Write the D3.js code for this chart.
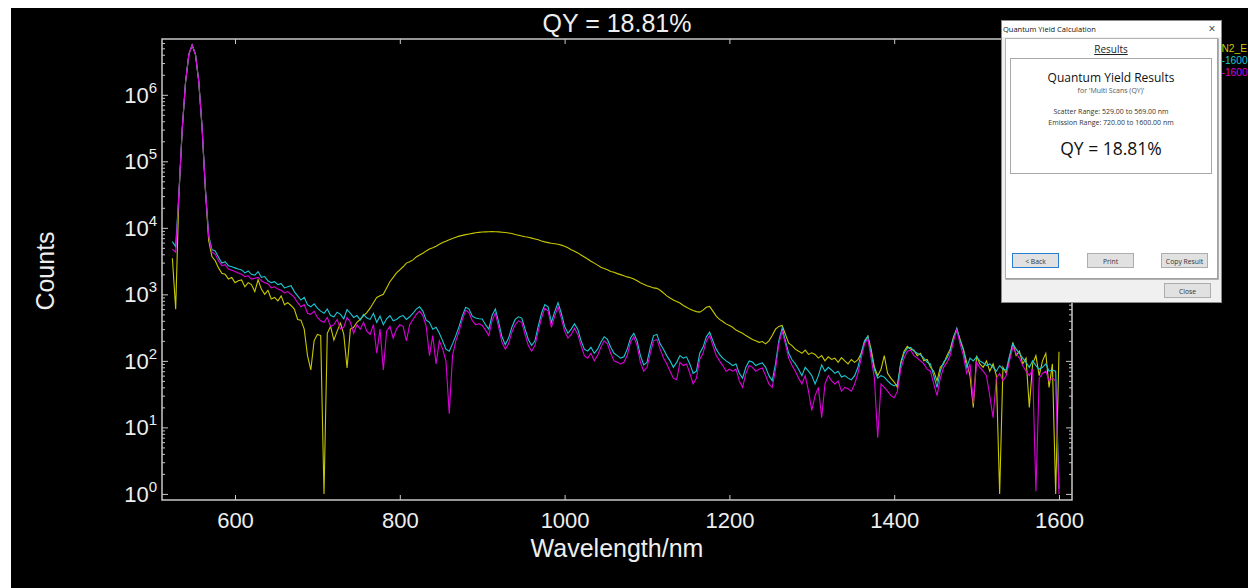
<!DOCTYPE html>
<html>
<head>
<meta charset="utf-8">
<script src="https://cdn.jsdelivr.net/npm/d3@7"></script>
<style>
body { margin: 0; background: #fff; }
svg { display: block; }
</style>
</head>
<body>
<svg width="1248" height="588"></svg>
<script>
// spectra sampled every 4 nm, 524 .. 1600 nm
var wavelengths = d3.range(524, 1601, 4);

var n2Counts = [
  3500, 600, 33000, 310000, 1550000, 4050000, 5580000, 4050000, 1590000, 325000, 38000, 6500, 3700, 3200, 2500, 2080, 2000, 1700, 1800, 1500,
  1600, 1650, 1300, 1500, 1400, 1100, 1650, 1200, 1000, 1150, 850, 900, 800, 950, 700, 750, 680, 600, 420, 410, 300, 120, 73, 200, 250,
  240, 1, 260, 330, 205, 280, 370, 250, 78, 300, 320, 380, 420, 480, 530, 620, 750, 900, 950, 1000, 1250, 1550, 1800, 2100, 2340,
  2600, 2950, 3100, 3300, 3650, 3900, 4150, 4500, 4800, 5000, 5300, 5650, 6000, 6300, 6600, 6900, 7200, 7500, 7700, 7900, 8100, 8250, 8450, 8550, 8650,
  8700, 8750, 8800, 8750, 8700, 8600, 8500, 8350, 8200, 7950, 7750, 7550, 7350, 7200, 7000, 6800, 6600, 6350, 6150, 6000, 5850, 5750, 5650, 5500, 5300,
  5000, 4700, 4450, 4200, 3900, 3650, 3400, 3150, 2950, 2750, 2550, 2450, 2350, 2200, 2150, 2050, 1980, 1900, 1830, 1780, 1700, 1600, 1500, 1420, 1350,
  1300, 1250, 1230, 1150, 1050, 950, 880, 820, 780, 740, 680, 640, 600, 570, 550, 540, 580, 640, 660, 560, 470, 420, 390, 360, 340,
  320, 290, 275, 260, 240, 225, 210, 200, 190, 195, 180, 200, 240, 300, 330, 340, 250, 185, 170, 150, 140, 130, 145, 125, 132,
  125, 110, 120, 100, 115, 105, 110, 95, 112, 100, 90, 105, 95, 104, 130, 190, 235, 150, 80, 60, 75, 120, 65, 55, 48,
  40, 95, 140, 165, 150, 145, 120, 130, 100, 105, 80, 70, 50, 80, 90, 120, 150, 230, 300, 210, 150, 95, 60, 20, 120,
  90, 80, 100, 70, 90, 60, 1, 80, 65, 110, 190, 120, 140, 90, 110, 20, 90, 120, 60, 100, 130, 40, 90, 1, 137
];

var cyanCounts = [
  6200, 5200, 34000, 314000, 1560000, 4070000, 5600000, 4070000, 1600000, 330000, 40000, 7800, 4700, 4500, 3600, 2950, 3100, 2700, 2600, 2500,
  2400, 2330, 2100, 2250, 2000, 1950, 2200, 1800, 1850, 1600, 1500, 1550, 1400, 1450, 1250, 1300, 1350, 1100, 950, 820, 900, 700, 650, 720, 620,
  560, 520, 600, 480, 460, 540, 500, 430, 590, 520, 450, 480, 410, 500, 440, 420, 520, 380, 470, 350, 430, 480, 400, 420, 460,
  480, 420, 460, 520, 600, 650, 560, 410, 380, 300, 320, 260, 200, 150, 140, 180, 240, 330, 480, 640, 600, 470, 440, 430, 425,
  350, 300, 480, 600, 380, 230, 175, 220, 320, 420, 460, 440, 300, 210, 170, 200, 330, 520, 700, 650, 380, 550, 750, 520, 330,
  260, 300, 360, 300, 200, 150, 140, 160, 130, 150, 190, 230, 210, 160, 130, 120, 110, 115, 150, 220, 260, 200, 120, 87, 95,
  160, 240, 250, 180, 150, 120, 100, 80, 95, 120, 110, 115, 90, 65, 70, 130, 160, 230, 270, 200, 150, 125, 110, 100, 93,
  85, 90, 65, 55, 80, 100, 96, 85, 90, 93, 80, 60, 50, 90, 200, 310, 200, 130, 104, 90, 75, 60, 80, 70, 60,
  45, 60, 87, 70, 80, 73, 65, 70, 57, 60, 55, 52, 60, 80, 130, 200, 235, 130, 73, 55, 60, 57, 50, 45, 42,
  45, 90, 130, 155, 160, 140, 130, 123, 110, 95, 90, 60, 40, 70, 96, 110, 140, 220, 310, 200, 145, 80, 110, 100, 115,
  100, 93, 85, 90, 80, 70, 85, 75, 73, 120, 180, 150, 130, 110, 95, 80, 100, 85, 75, 80, 90, 70, 73, 70, 1.2
];

var magentaCounts = [
  4800, 4300, 34000, 314000, 1560000, 4070000, 5600000, 4070000, 1600000, 330000, 40000, 7500, 4300, 4000, 3200, 2700, 2800, 2400, 2300, 2200,
  2100, 2000, 1850, 1900, 1700, 1750, 1800, 1600, 1500, 1450, 1250, 1300, 1200, 1150, 1050, 1100, 1000, 900, 750, 650, 700, 520, 500, 560, 450,
  400, 380, 450, 330, 350, 420, 300, 320, 450, 380, 260, 350, 300, 380, 280, 250, 350, 130, 300, 73, 280, 330, 220, 300, 350,
  330, 200, 350, 420, 500, 560, 480, 330, 120, 240, 90, 200, 150, 100, 16, 120, 200, 280, 420, 580, 530, 400, 350, 360, 340,
  290, 240, 400, 520, 320, 190, 150, 180, 270, 350, 400, 380, 250, 170, 140, 170, 280, 440, 620, 560, 320, 470, 650, 440, 280,
  220, 250, 310, 250, 170, 120, 110, 130, 100, 120, 160, 200, 180, 130, 100, 95, 90, 95, 120, 190, 230, 170, 95, 70, 80,
  130, 200, 210, 150, 110, 90, 70, 55, 52, 95, 85, 90, 65, 45, 55, 105, 130, 200, 240, 170, 120, 100, 85, 70, 75,
  70, 75, 50, 40, 65, 85, 80, 70, 75, 78, 60, 45, 40, 75, 180, 280, 180, 110, 85, 70, 55, 45, 60, 35, 18,
  30, 40, 14, 45, 60, 50, 45, 50, 35, 40, 38, 35, 45, 65, 110, 180, 215, 110, 55, 7, 45, 40, 35, 30, 28,
  35, 75, 110, 140, 145, 120, 110, 100, 90, 75, 70, 45, 30, 55, 80, 95, 120, 200, 290, 180, 120, 65, 90, 23, 95,
  80, 70, 60, 30, 14, 55, 65, 50, 60, 100, 160, 130, 110, 85, 70, 60, 75, 1.1, 55, 65, 70, 50, 55, 50, 1
];

// only the start of each legend name is inside the picture
var seriesNames = ["N2_E", "-1600", "-1600"];
var seriesColors = ["#c8c800", "#1cc6d4", "#dc00dc"];
var xTicks = [600, 800, 1000, 1200, 1400, 1600];
var decadeExps = [0, 1, 2, 3, 4, 5, 6];

document.addEventListener('DOMContentLoaded', function() {
  var svg = d3.select("svg");
  svg.append("rect").attr("x", 11).attr("y", 8).attr("width", 1237).attr("height", 580).attr("fill", "#000");

  var plotLeft = 162, plotRight = 1072, plotTop = 39, plotBottom = 500;
  var x = d3.scaleLinear().domain([511.4, 1615.8]).range([plotLeft, plotRight]);
  var y = d3.scaleLog().domain([0.81, 6.9e6]).range([plotBottom, plotTop]);

  var majors = decadeExps.map(function(e) { return Math.pow(10, e); });
  var minors = [];
  majors.forEach(function(d) {
    for (var k = 2; k < 10; k++) if (d * k < 6.9e6) minors.push(d * k);
  });

  svg.append("defs").append("clipPath").attr("id", "plotclip")
    .append("rect").attr("x", plotLeft).attr("y", plotTop)
    .attr("width", plotRight - plotLeft).attr("height", plotBottom - plotTop);

  var line = d3.line()
    .x(function(d) { return x(d[0]); })
    .y(function(d) { return y(d[1]); });

  var g = svg.append("g").attr("clip-path", "url(#plotclip)");
  [n2Counts, cyanCounts, magentaCounts].forEach(function(vals, i) {
    g.append("path")
      .datum(wavelengths.map(function(w, j) { return [w, vals[j]]; }))
      .attr("fill", "none")
      .attr("stroke", seriesColors[i])
      .attr("stroke-width", 1.1)
      .attr("d", line);
  });

  var axisColor = "#c8c8c8";
  function styleAxis(sel) {
    sel.select(".domain").remove();
    sel.selectAll(".tick line").attr("stroke", axisColor);
    sel.selectAll("text").attr("fill", "#eeeeee");
  }

  svg.append("g").attr("transform", "translate(0," + plotBottom + ")")
    .call(d3.axisBottom(x).tickValues(xTicks).tickSize(-5).tickPadding(12).tickFormat(d3.format("d")))
    .attr("font-family", "'Liberation Sans', Arial, sans-serif").attr("font-size", 22)
    .call(styleAxis);
  svg.append("g").attr("transform", "translate(0," + plotTop + ")")
    .call(d3.axisTop(x).tickValues(xTicks).tickSize(-5).tickFormat(""))
    .call(styleAxis);

  svg.append("g").attr("transform", "translate(" + plotLeft + ",0)")
    .call(d3.axisLeft(y).tickValues(majors).tickSize(-6).tickFormat(""))
    .call(styleAxis);
  svg.append("g").attr("transform", "translate(" + plotLeft + ",0)")
    .call(d3.axisLeft(y).tickValues(minors).tickSize(-3).tickFormat(""))
    .call(styleAxis);
  svg.append("g").attr("transform", "translate(" + plotRight + ",0)")
    .call(d3.axisRight(y).tickValues(majors).tickSize(-6).tickFormat(""))
    .call(styleAxis);
  svg.append("g").attr("transform", "translate(" + plotRight + ",0)")
    .call(d3.axisRight(y).tickValues(minors).tickSize(-3).tickFormat(""))
    .call(styleAxis);

  svg.append("rect")
    .attr("x", plotLeft).attr("y", plotTop)
    .attr("width", plotRight - plotLeft).attr("height", plotBottom - plotTop)
    .attr("fill", "none").attr("stroke", axisColor).attr("stroke-width", 1.5);

  var ylab = svg.append("g").attr("font-family", "'Liberation Sans', Arial, sans-serif").attr("fill", "#eeeeee");
  decadeExps.forEach(function(e) {
    var t = ylab.append("text")
      .attr("x", 157)
      .attr("y", y(Math.pow(10, e)) + 8)
      .attr("text-anchor", "end")
      .attr("font-size", 22);
    t.append("tspan").text("10");
    t.append("tspan").attr("dy", -10).attr("font-size", 15).text(e);
  });

  svg.append("text")
    .attr("x", 617).attr("y", 32)
    .attr("text-anchor", "middle")
    .attr("font-family", "'Liberation Sans', Arial, sans-serif")
    .attr("font-size", 25).attr("fill", "#eeeeee")
    .text("QY = 18.81%");

  svg.append("text")
    .attr("x", 617).attr("y", 557)
    .attr("text-anchor", "middle")
    .attr("font-family", "'Liberation Sans', Arial, sans-serif")
    .attr("font-size", 25).attr("fill", "#eeeeee")
    .text("Wavelength/nm");

  svg.append("text")
    .attr("transform", "translate(54,271) rotate(-90)")
    .attr("text-anchor", "middle")
    .attr("font-family", "'Liberation Sans', Arial, sans-serif")
    .attr("font-size", 25).attr("fill", "#eeeeee")
    .text("Counts");

  svg.append("g").selectAll("text").data(seriesNames).enter().append("text")
    .attr("x", 1221.5)
    .attr("y", function(d, i) { return 52 + i * 12; })
    .attr("font-family", "'Liberation Sans', Arial, sans-serif")
    .attr("font-size", 10.2)
    .attr("fill", function(d, i) { return seriesColors[i]; })
    .text(function(d) { return d; });

  // results dialog
  var dlg = svg.append("g").attr("font-family", "'Open Sans', 'Noto Sans', sans-serif");
  dlg.append("rect").attr("x", 1001.5).attr("y", 20.5).attr("width", 220).attr("height", 282)
    .attr("fill", "#f0f0f0").attr("stroke", "#8a8a8a");
  dlg.append("rect").attr("x", 1002).attr("y", 21).attr("width", 219).attr("height", 16).attr("fill", "#fff");
  dlg.append("text").attr("x", 1003).attr("y", 32).attr("font-size", 7.5).attr("fill", "#111")
    .text("Quantum Yield Calculation");
  dlg.append("text").attr("x", 1212).attr("y", 33).attr("font-size", 12).attr("text-anchor", "middle")
    .attr("fill", "#333").text("\u00d7");
  dlg.append("rect").attr("x", 1005.5).attr("y", 38.5).attr("width", 212).attr("height", 240)
    .attr("fill", "#fff").attr("stroke", "#b4b4b4");
  dlg.append("path").attr("d", "M1218,38.5 V279 H1005.5").attr("fill", "none")
    .attr("stroke", "#9a9a9a").attr("stroke-width", 1.5);
  dlg.append("text").attr("x", 1111).attr("y", 53).attr("font-size", 10).attr("text-anchor", "middle")
    .attr("fill", "#222").attr("text-decoration", "underline").text("Results");
  dlg.append("rect").attr("x", 1010.5).attr("y", 58.5).attr("width", 201).attr("height", 115)
    .attr("fill", "none").attr("stroke", "#a8a8a8");

  var lines = [
    ["Quantum Yield Results", 82, 12, "#111"],
    ["for 'Multi Scans (QY)'", 92.5, 7, "#555"],
    ["Scatter Range: 529.00 to 569.00 nm", 114, 7, "#333"],
    ["Emission Range: 720.00 to 1600.00 nm", 124.5, 7, "#333"],
    ["QY = 18.81%", 155, 17.5, "#111"]
  ];
  dlg.selectAll(".res").data(lines).enter().append("text")
    .attr("x", 1111)
    .attr("y", function(d) { return d[1]; })
    .attr("font-size", function(d) { return d[2]; })
    .attr("fill", function(d) { return d[3]; })
    .attr("text-anchor", "middle")
    .text(function(d) { return d[0]; });

  var buttons = [
    ["< Back", 1012.5, 253.5, "#2a7fd4"],
    ["Print", 1087.5, 253.5, "#adadad"],
    ["Copy Result", 1161.5, 253.5, "#adadad"],
    ["Close", 1164.5, 283.5, "#adadad"]
  ];
  var btn = dlg.selectAll(".btn").data(buttons).enter().append("g");
  btn.append("rect")
    .attr("x", function(d) { return d[1]; })
    .attr("y", function(d) { return d[2]; })
    .attr("width", 46).attr("height", 14)
    .attr("fill", "#e1e1e1")
    .attr("stroke", function(d) { return d[3]; });
  btn.append("text")
    .attr("x", function(d) { return d[1] + 23; })
    .attr("y", function(d) { return d[2] + 10; })
    .attr("font-size", 6.8).attr("fill", "#333").attr("text-anchor", "middle")
    .text(function(d) { return d[0]; });
});
</script>
</body>
</html>
